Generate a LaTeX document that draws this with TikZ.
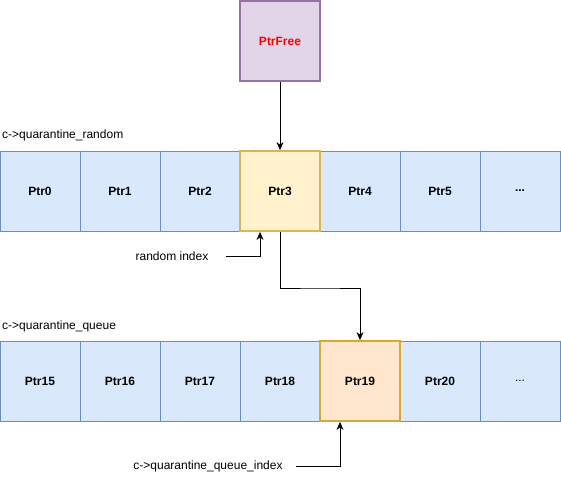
\documentclass[tikz,border=0pt]{standalone}
\usepackage{fontspec}
\setmainfont{Liberation Sans}
\usetikzlibrary{arrows.meta}
\definecolor{cellfill}{HTML}{DAE8FC}
\definecolor{celldraw}{HTML}{6C8EBF}
\definecolor{freefill}{HTML}{E1D5E7}
\definecolor{freedraw}{HTML}{9673A6}
\definecolor{yelfill}{HTML}{FFF2CC}
\definecolor{yeldraw}{HTML}{D6B656}
\definecolor{orfill}{HTML}{FFE6CC}
\definecolor{ordraw}{HTML}{D6A933}
\tikzset{
  cell/.style={draw=celldraw, fill=cellfill, line width=0.8pt, minimum width=80pt, minimum height=80pt, inner sep=0pt, font=\fontsize{12}{14}\selectfont\bfseries},
  freecell/.style={cell, draw=freedraw, fill=freefill, line width=1.6pt, text=red},
  yelcell/.style={cell, draw=yeldraw, fill=yelfill, line width=1.8pt},
  orcell/.style={cell, draw=ordraw, fill=orfill, line width=1.8pt},
  lbl/.style={font=\fontsize{12}{14}\selectfont, inner sep=0pt},
  conn/.style={draw=black, line width=0.8pt, -{Stealth[length=8pt,width=7pt,inset=2.5pt]}}
}
\begin{document}
\begin{tikzpicture}[x=1pt,y=-1pt]
\useasboundingbox (0,0) rectangle (561,481);
% top row
\node[cell] (r0) at (40,191) {Ptr0};
\node[cell] (r1) at (120,191) {Ptr1};
\node[cell] (r2) at (200,191) {Ptr2};
\node[cell] (r4) at (360,191) {Ptr4};
\node[cell] (r5) at (440,191) {Ptr5};
\node[cell] (r6) at (520,191) {...};
\node[yelcell] (r3) at (280,191) {Ptr3};
% bottom row
\node[cell] (q0) at (40,381) {Ptr15};
\node[cell] (q1) at (120,381) {Ptr16};
\node[cell] (q2) at (200,381) {Ptr17};
\node[cell] (q3) at (280,381) {Ptr18};
\node[cell] (q5) at (440,381) {Ptr20};
\node[cell, font=\fontsize{12}{14}\selectfont] (q6) at (520,381) {...};
\node[orcell] (q4) at (360,381) {Ptr19};
% free
\node[freecell] (free) at (280,41) {PtrFree};
% labels
\node[lbl, anchor=west] (lr) at (2,135) {c->quarantine\_random};
\node[lbl, anchor=west] (lq) at (2,326) {c->quarantine\_queue};
\node[lbl] (ri) at (172,256) {random index};
\node[lbl] (qi) at (208,466) {c->quarantine\_queue\_index};
\coordinate (riend) at (226,256);
\coordinate (qiend) at (296,466);
% connectors
\draw[conn] (free.south) -- (r3.north);
\draw[conn] (r3.south) |- (320,288) -| (q4.north);
\draw[conn] (riend) -| ([xshift=-20pt]r3.south);
\draw[conn] (qiend) -| ([xshift=-20pt]q4.south);
\end{tikzpicture}
\end{document}
